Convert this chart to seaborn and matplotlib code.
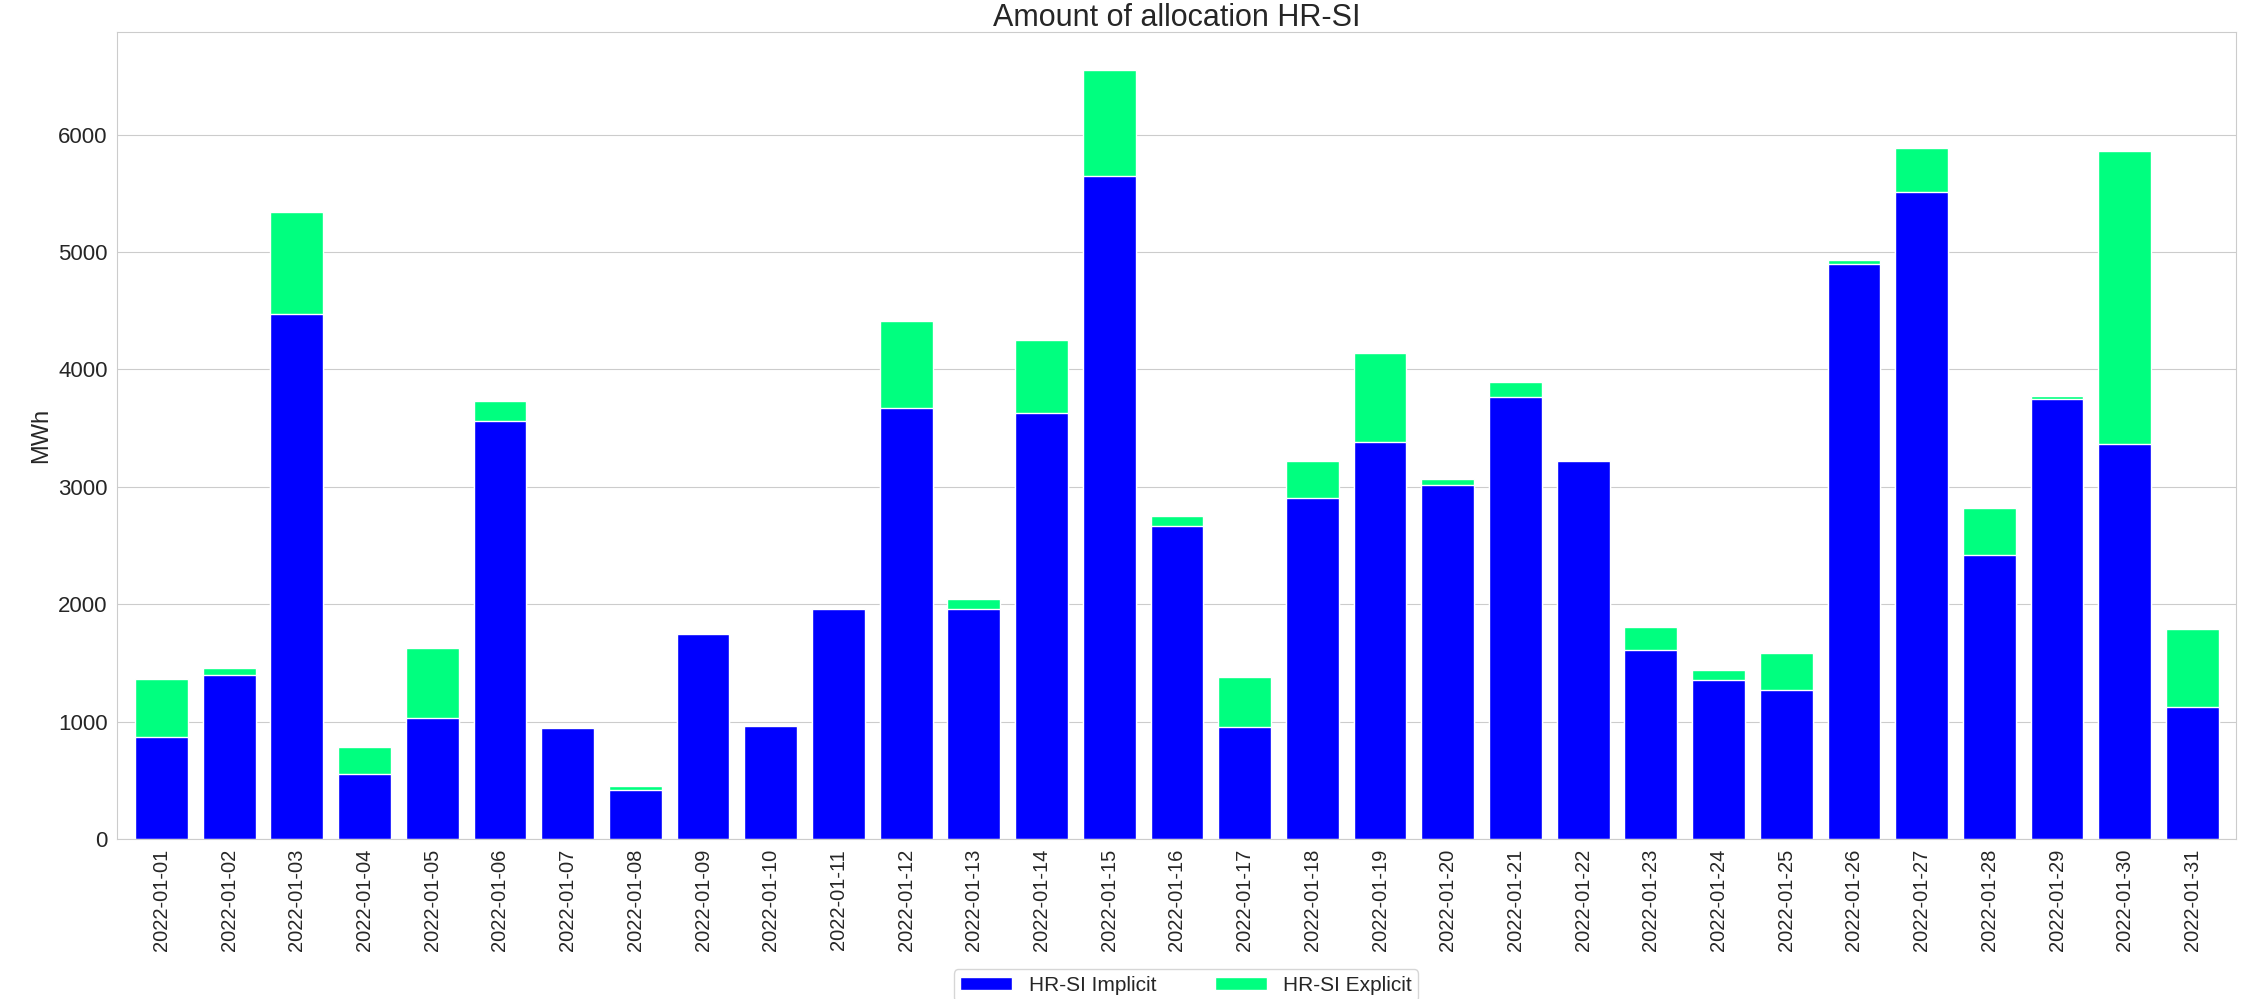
import pandas as pd
import seaborn as sns
import matplotlib
matplotlib.use("Agg")
import matplotlib.pyplot as plt

# Datos (MWh)
dates = ["2022-01-01", "2022-01-02", "2022-01-03", "2022-01-04", "2022-01-05",
         "2022-01-06", "2022-01-07", "2022-01-08", "2022-01-09", "2022-01-10",
         "2022-01-11", "2022-01-12", "2022-01-13", "2022-01-14", "2022-01-15",
         "2022-01-16", "2022-01-17", "2022-01-18", "2022-01-19", "2022-01-20",
         "2022-01-21", "2022-01-22", "2022-01-23", "2022-01-24", "2022-01-25",
         "2022-01-26", "2022-01-27", "2022-01-28", "2022-01-29", "2022-01-30",
         "2022-01-31"]
implicit = [867, 1399, 4473, 557, 1029, 3562, 950, 421, 1751, 967,
            1962, 3670, 1962, 3630, 5646, 2664, 958, 2903, 3383, 3014,
            3767, 3222, 1612, 1359, 1268, 4894, 5512, 2417, 3747, 3369,
            1129]
explicit = [498, 60, 866, 228, 597, 168, 0, 34, 0, 0,
            0, 741, 79, 622, 900, 85, 424, 319, 758, 57,
            122, 0, 193, 83, 319, 36, 375, 401, 25, 2493,
            659]

df = pd.DataFrame({"Fecha": dates, "HR-SI Implicit": implicit, "HR-SI Explicit": explicit})
df["Total"] = df["HR-SI Implicit"] + df["HR-SI Explicit"]

sns.set_style("whitegrid")
plt.rcParams["font.family"] = ["Liberation Sans", "DejaVu Sans"]

fig, ax = plt.subplots(figsize=(22.59, 9.99), dpi=100)
fig.subplots_adjust(left=0.052, right=0.99, bottom=0.16, top=0.968)

# Barras apiladas: total (verde) y encima la parte implicita (azul)
sns.barplot(data=df, x="Fecha", y="Total", color="#00FF7F", saturation=1,
            width=0.78, edgecolor="white", linewidth=1, ax=ax)
sns.barplot(data=df, x="Fecha", y="HR-SI Implicit", color="#0000FF", saturation=1,
            width=0.78, edgecolor="white", linewidth=1, ax=ax)

ax.set_xlim(-0.65, len(dates) - 1 + 0.65)
ax.set_ylim(0, df["Total"].max() * 1.05)
ax.set_yticks(range(0, 7000, 1000))
ax.grid(axis="x", visible=False)
ax.set_title("Amount of allocation HR-SI", fontsize=22, pad=4)
ax.set_xlabel("")
ax.set_ylabel("MWh", fontsize=17)
ax.tick_params(axis="x", labelsize=14.5, rotation=90)
ax.tick_params(axis="y", labelsize=16)

handles = [ax.containers[1], ax.containers[0]]
labels = ["HR-SI Implicit", "HR-SI Explicit"]
fig.legend(handles, labels, loc="upper center", bbox_to_anchor=(0.525, 0.040),
           ncol=2, fontsize=15, handlelength=2.5, handleheight=0.6,
           columnspacing=2.8, borderpad=0.3, frameon=True)

plt.savefig("out.png")
